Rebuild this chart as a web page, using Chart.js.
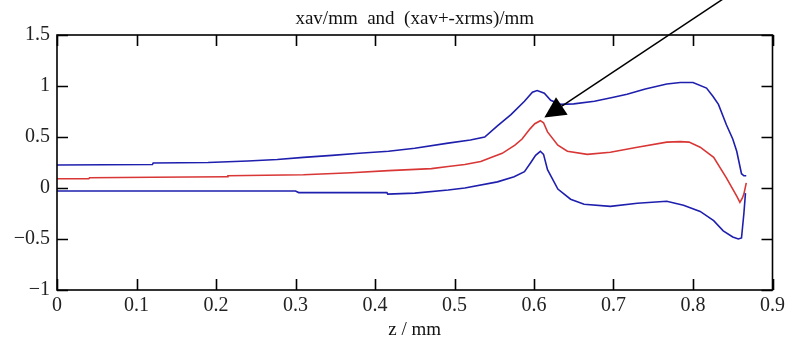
<!DOCTYPE html>
<html>
<head>
<meta charset="utf-8">
<title>xav/mm and (xav+-xrms)/mm</title>
<script src="https://cdn.jsdelivr.net/npm/chart.js@4.4.0/dist/chart.umd.min.js"></script>
<style>
  html, body { margin: 0; padding: 0; background: #ffffff; }
  canvas { display: block; }
</style>
</head>
<body>
<canvas id="c" width="789" height="341"></canvas>
<script>
// Beam centroid and envelope along z
const zUpper = [0, 0.120, 0.121, 0.190, 0.240, 0.277, 0.310, 0.346, 0.380, 0.417, 0.450, 0.492, 0.520, 0.538, 0.554, 0.571, 0.588, 0.598, 0.604, 0.613, 0.621, 0.633, 0.650, 0.676, 0.700, 0.717, 0.740, 0.767, 0.784, 0.800, 0.817, 0.825, 0.832, 0.842, 0.850, 0.855, 0.861, 0.864, 0.867];
const xUpper = [0.225, 0.230, 0.245, 0.250, 0.265, 0.280, 0.300, 0.320, 0.340, 0.360, 0.390, 0.440, 0.470, 0.500, 0.610, 0.720, 0.850, 0.940, 0.955, 0.930, 0.860, 0.820, 0.825, 0.850, 0.890, 0.920, 0.970, 1.020, 1.035, 1.035, 0.980, 0.900, 0.820, 0.620, 0.480, 0.360, 0.140, 0.120, 0.120];

const zMean = [0, 0.040, 0.041, 0.120, 0.214, 0.215, 0.310, 0.370, 0.417, 0.471, 0.492, 0.513, 0.533, 0.546, 0.560, 0.576, 0.585, 0.595, 0.601, 0.608, 0.612, 0.617, 0.630, 0.642, 0.667, 0.696, 0.730, 0.767, 0.784, 0.795, 0.809, 0.826, 0.842, 0.855, 0.859, 0.862, 0.864, 0.867];
const xMean = [0.090, 0.090, 0.100, 0.105, 0.110, 0.120, 0.130, 0.150, 0.170, 0.190, 0.210, 0.230, 0.260, 0.300, 0.340, 0.420, 0.480, 0.580, 0.630, 0.660, 0.640, 0.550, 0.420, 0.360, 0.330, 0.350, 0.400, 0.450, 0.455, 0.450, 0.400, 0.300, 0.100, -0.080, -0.140, -0.100, -0.060, 0.050];

const zLower = [0, 0.300, 0.304, 0.415, 0.416, 0.450, 0.492, 0.513, 0.554, 0.575, 0.588, 0.596, 0.602, 0.608, 0.612, 0.617, 0.630, 0.646, 0.663, 0.696, 0.730, 0.767, 0.788, 0.809, 0.826, 0.838, 0.850, 0.857, 0.861, 0.864, 0.866];
const xLower = [-0.030, -0.030, -0.045, -0.045, -0.060, -0.050, -0.020, 0.000, 0.060, 0.110, 0.160, 0.250, 0.320, 0.360, 0.330, 0.180, -0.010, -0.110, -0.160, -0.180, -0.150, -0.130, -0.170, -0.230, -0.320, -0.420, -0.480, -0.500, -0.490, -0.250, -0.050];

const xTickLabels = ['0', '0.1', '0.2', '0.3', '0.4', '0.5', '0.6', '0.7', '0.8', '0.9'];
const yTickLabels = ['\u22121', '\u22120.5', '0', '0.5', '1', '1.5'];

const chartTitle = 'xav/mm  and  (xav+-xrms)/mm';
const xAxisTitle = 'z / mm';

// Arrow annotation (data coordinates): tail and head
const arrowTail = { x: 0.843, y: 1.88 };
const arrowHead = { x: 0.613, y: 0.69 };

const BLUE = '#1f1fae';
const RED = '#d93636';
const SERIF = "'Liberation Serif', 'Times New Roman', serif";

function pairs(zs, vs) {
  return zs.map((z, i) => ({ x: z, y: vs[i] }));
}

const framePlugin = {
  id: 'frameTicksArrow',
  afterDatasetsDraw(chart) {
    const { ctx, chartArea: a, scales: { x, y } } = chart;
    const TICK = 11;
    ctx.save();
    ctx.strokeStyle = '#000';
    ctx.lineWidth = 1.6;
    ctx.strokeRect(a.left, a.top, a.right - a.left, a.bottom - a.top);
    ctx.beginPath();
    x.ticks.forEach(t => {
      const px = Math.round(x.getPixelForValue(t.value)) + 0.5;
      ctx.moveTo(px, a.bottom); ctx.lineTo(px, a.bottom - TICK);
      ctx.moveTo(px, a.top); ctx.lineTo(px, a.top + TICK);
    });
    y.ticks.forEach(t => {
      const py = Math.round(y.getPixelForValue(t.value)) + 0.5;
      ctx.moveTo(a.left, py); ctx.lineTo(a.left + TICK, py);
      ctx.moveTo(a.right, py); ctx.lineTo(a.right - TICK, py);
    });
    ctx.stroke();

    // title
    ctx.fillStyle = '#111';
    ctx.font = '19px ' + SERIF;
    ctx.textAlign = 'center';
    ctx.textBaseline = 'alphabetic';
    ctx.fillText(chartTitle, (a.left + a.right) / 2, 24);

    // arrow
    const x0 = x.getPixelForValue(arrowTail.x), y0 = y.getPixelForValue(arrowTail.y);
    const x1 = x.getPixelForValue(arrowHead.x), y1 = y.getPixelForValue(arrowHead.y);
    const ang = Math.atan2(y1 - y0, x1 - x0);
    const headLen = 21, headHalf = 10.5;
    const bx = x1 - headLen * Math.cos(ang), by = y1 - headLen * Math.sin(ang);
    ctx.strokeStyle = '#000';
    ctx.lineWidth = 1.5;
    ctx.beginPath();
    ctx.moveTo(x0, y0); ctx.lineTo(bx, by);
    ctx.stroke();
    ctx.fillStyle = '#000';
    ctx.beginPath();
    ctx.moveTo(x1, y1);
    ctx.lineTo(bx + headHalf * Math.sin(ang), by - headHalf * Math.cos(ang));
    ctx.lineTo(bx - headHalf * Math.sin(ang), by + headHalf * Math.cos(ang));
    ctx.closePath();
    ctx.fill();
    ctx.restore();
  }
};

new Chart(document.getElementById('c'), {
  type: 'line',
  data: {
    datasets: [
      { label: 'xav+xrms', data: pairs(zUpper, xUpper), borderColor: BLUE },
      { label: 'xav-xrms', data: pairs(zLower, xLower), borderColor: BLUE },
      { label: 'xav', data: pairs(zMean, xMean), borderColor: RED }
    ]
  },
  options: {
    responsive: false,
    animation: false,
    devicePixelRatio: 1,
    elements: {
      point: { radius: 0, hoverRadius: 0 },
      line: { borderWidth: 1.6, tension: 0, fill: false }
    },
    layout: { padding: { top: 35, right: 13, left: 0, bottom: 0 } },
    plugins: {
      legend: { display: false },
      title: { display: false },
      tooltip: { enabled: false }
    },
    scales: {
      x: {
        type: 'linear',
        min: 0, max: 0.9,
        border: { display: false },
        grid: { display: false, drawTicks: false },
        ticks: {
          stepSize: 0.1,
          autoSkip: false,
          maxRotation: 0,
          padding: 4,
          color: '#222',
          font: { family: SERIF, size: 20 },
          callback: (v, i) => xTickLabels[i]
        },
        title: {
          display: true,
          text: xAxisTitle,
          color: '#111',
          font: { family: SERIF, size: 19 },
          padding: { top: 0, bottom: 0 }
        },
        afterFit: s => { s.height = 51; }
      },
      y: {
        type: 'linear',
        min: -1, max: 1.5,
        border: { display: false },
        grid: { display: false, drawTicks: false },
        ticks: {
          stepSize: 0.5,
          padding: 7,
          color: '#222',
          font: { family: SERIF, size: 20 },
          callback: (v, i) => yTickLabels[i]
        },
        afterFit: s => { s.width = 57; }
      }
    }
  },
  plugins: [framePlugin]
});
</script>
</body>
</html>
